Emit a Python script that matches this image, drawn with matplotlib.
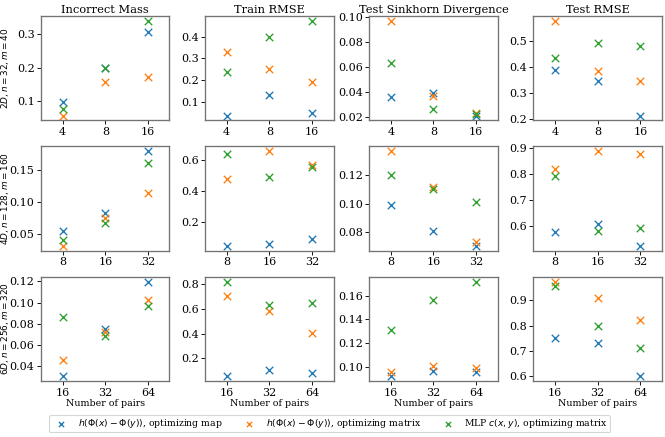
import matplotlib
matplotlib.use("Agg")
import matplotlib.pyplot as plt
from matplotlib.ticker import MaxNLocator

plt.rcParams["font.family"] = "DejaVu Serif"
plt.rcParams["mathtext.fontset"] = "dejavusans"

metrics = ["Incorrect Mass", "Train RMSE", "Test Sinkhorn Divergence", "Test RMSE"]
row_labels = [r"$2D, n = 32, m = 40$", r"$4D, n = 128, m = 160$", r"$6D, n = 256, m = 320$"]
pairs = [["4", "8", "16"], ["8", "16", "32"], ["16", "32", "64"]]
series_names = [
    r"$h(\Phi(x) - \Phi(y))$, optimizing map",
    r"$h(\Phi(x) - \Phi(y))$, optimizing matrix",
    r"MLP $c(x, y)$, optimizing matrix",
]
colors = ["#1f77b4", "#ff7f0e", "#2ca02c"]

# values[row][metric] -> [map, matrix, mlp], each over the 3 pair counts
map_2d = [[0.098, 0.200, 0.304], [0.035, 0.131, 0.049], [0.0358, 0.0397, 0.0213], [0.389, 0.344, 0.212]]
mat_2d = [[0.058, 0.158, 0.172], [0.329, 0.252, 0.190], [0.0968, 0.0368, 0.0234], [0.577, 0.384, 0.344]]
mlp_2d = [[0.078, 0.200, 0.338], [0.237, 0.400, 0.474], [0.0634, 0.0263, 0.0224], [0.434, 0.492, 0.481]]

map_4d = [[0.0536, 0.082, 0.179], [0.050, 0.064, 0.094], [0.0988, 0.0807, 0.0704], [0.577, 0.608, 0.525]]
mat_4d = [[0.0305, 0.075, 0.113], [0.476, 0.654, 0.566], [0.1365, 0.1115, 0.0734], [0.818, 0.887, 0.877]]
mlp_4d = [[0.0401, 0.0667, 0.161], [0.636, 0.488, 0.553], [0.120, 0.1099, 0.1012], [0.793, 0.583, 0.593]]

map_6d = [[0.0306, 0.0751, 0.1197], [0.056, 0.109, 0.085], [0.0918, 0.0966, 0.0952], [0.749, 0.729, 0.599]]
mat_6d = [[0.0459, 0.0726, 0.1025], [0.701, 0.581, 0.408], [0.0958, 0.1008, 0.0989], [0.974, 0.909, 0.821]]
mlp_6d = [[0.086, 0.0683, 0.0969], [0.818, 0.627, 0.648], [0.1307, 0.1566, 0.1718], [0.957, 0.797, 0.713]]

data = [
    [map_2d, mat_2d, mlp_2d],
    [map_4d, mat_4d, mlp_4d],
    [map_6d, mat_6d, mlp_6d],
]

# drawn larger at a lower dpi, as the original was downscaled
fig, axes = plt.subplots(3, 4, figsize=(8.3125, 5.4625), dpi=80)
fig.subplots_adjust(left=0.062, right=0.995, top=0.963, bottom=0.128, wspace=0.28, hspace=0.25)

for r in range(3):
    for c in range(4):
        ax = axes[r, c]
        x = range(len(pairs[r]))
        for s in range(3):
            ax.scatter(x, data[r][s][c], marker="x", s=45, linewidths=1.2,
                       color=colors[s], label=series_names[s])
        ax.set_xticks(list(x))
        ax.set_xticklabels(pairs[r])
        ax.set_xlim(-0.5, 2.5)
        ax.yaxis.set_major_locator(MaxNLocator(nbins=6, steps=[1, 2, 2.5, 5, 10]))
        ax.tick_params(labelsize=10, length=3.5, pad=2.5)
        for sp in ax.spines.values():
            sp.set_color("0.45")
            sp.set_linewidth(1.2)
        if r == 0:
            ax.set_title(metrics[c], fontsize=10.2, pad=3)
        if r == 2:
            ax.set_xlabel("Number of pairs", fontsize=8.5, labelpad=1)
        if c == 0:
            ax.set_ylabel(row_labels[r], fontsize=8)
            ax.yaxis.set_label_coords(-0.235, 0.5)

handles, labels = axes[0, 0].get_legend_handles_labels()
fig.legend(handles, labels, loc="lower center", ncol=3, fontsize=8.3,
           bbox_to_anchor=(0.496, 0.0), handletextpad=0.8, columnspacing=1.9,
           markerscale=0.7, borderpad=0.25)

plt.savefig("out.png", dpi=80)
